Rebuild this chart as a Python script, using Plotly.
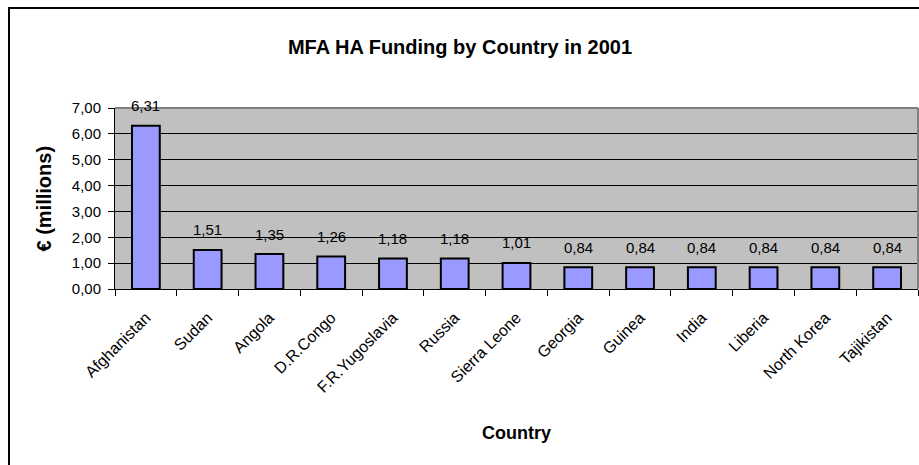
import plotly.graph_objects as go

countries = ["Afghanistan", "Sudan", "Angola", "D.R.Congo", "F.R.Yugoslavia", "Russia",
             "Sierra Leone", "Georgia", "Guinea", "India", "Liberia", "North Korea", "Tajikistan"]
funding = [6.31, 1.51, 1.35, 1.26, 1.18, 1.18, 1.01, 0.84, 0.84, 0.84, 0.84, 0.84, 0.84]
y_ticks = [0, 1, 2, 3, 4, 5, 6, 7]

W, H = 919, 465
ML, MR, MT, MB = 115, 1, 108, 176
PW, PH = W - ML - MR, H - MT - MB

def px_x(px):
    return (px - ML) / PW

def px_y(py):
    return 1 - (py - MT) / PH

FONT = "Liberation Sans, Arial, sans-serif"

fig = go.Figure(go.Bar(
    x=countries, y=funding,
    marker=dict(color="#9999FF", line=dict(color="#000000", width=2)),
    width=0.45,
    hoverinfo="x+y",
))

annotations = [
    dict(x=c, y=v, xref="x", yref="y", text=f"{v:.2f}".replace(".", ","),
         showarrow=False, yanchor="middle", yshift=20,
         font=dict(family=FONT, size=15, color="#000000"))
    for c, v in zip(countries, funding)
]
annotations += [
    dict(text="<b>€ (millions)</b>", xref="paper", yref="paper",
         x=px_x(43), y=0.5, xanchor="center", yanchor="middle", textangle=-90,
         showarrow=False, font=dict(family=FONT, size=20, color="#000000")),
    dict(text="<b>Country</b>", xref="paper", yref="paper",
         x=0.5, y=px_y(433), xanchor="center", yanchor="middle",
         showarrow=False, font=dict(family=FONT, size=18, color="#000000")),
]

fig.update_layout(
    width=W, height=H,
    margin=dict(l=ML, r=MR, t=MT, b=MB),
    paper_bgcolor="#FFFFFF",
    plot_bgcolor="#C0C0C0",
    separators=",.",
    showlegend=False,
    font=dict(family=FONT, color="#000000"),
    title=dict(text="<b>MFA HA Funding by Country in 2001</b>",
               x=460 / W, xanchor="center", y=1 - 47 / H, yanchor="middle",
               font=dict(family=FONT, size=20, color="#000000")),
    xaxis=dict(
        tickangle=-45, tickson="boundaries", ticks="outside", ticklen=6,
        tickcolor="#000000", showline=True, linecolor="#000000", linewidth=1,
        tickfont=dict(family=FONT, size=16, color="#000000"),
        ticklabelstandoff=12,
        showgrid=False,
    ),
    yaxis=dict(
        range=[0, 7], tickvals=y_ticks, tickformat=".2f",
        ticks="outside", ticklen=6, tickcolor="#000000",
        showline=True, linecolor="#000000", linewidth=1,
        showgrid=True, gridcolor="#000000", gridwidth=1,
        tickfont=dict(family=FONT, size=15, color="#000000"),
        ticklabelstandoff=4,
        zeroline=False,
    ),
    annotations=annotations,
    shapes=[
        dict(type="line", xref="paper", yref="paper",
             x0=0, x1=1, y0=1, y1=1, line=dict(color="#808080", width=2)),
        dict(type="line", xref="paper", yref="paper",
             x0=1, x1=1, y0=0, y1=1, line=dict(color="#808080", width=2)),
        dict(type="rect", xref="paper", yref="paper",
             x0=px_x(9), x1=px_x(940), y0=px_y(490), y1=px_y(8),
             line=dict(color="#000000", width=2)),
    ],
)

fig.write_html("out.html")
